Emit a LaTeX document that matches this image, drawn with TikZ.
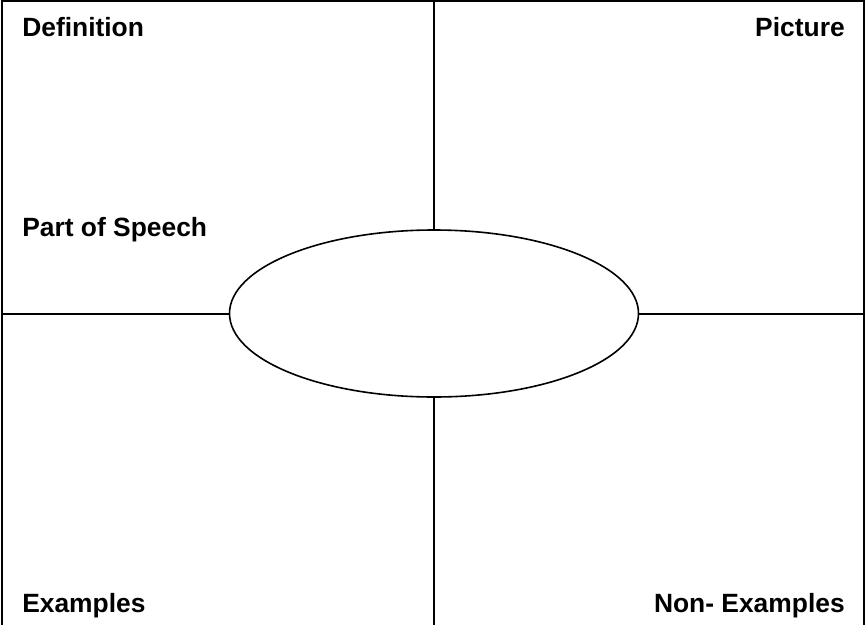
\documentclass[tikz,border=0pt]{standalone}
\usepackage{fontspec}
\setmainfont{Liberation Sans}
\usetikzlibrary{shapes.geometric, positioning}

\begin{document}
\begin{tikzpicture}[
  x=0.75pt, y=-0.75pt,
  frame/.style={line width=1.5pt, black},
  label/.style={font=\fontsize{19.8}{22}\selectfont\bfseries, inner sep=0pt},
  hub/.style={ellipse, draw, line width=1.2pt, minimum width=409*0.75pt,
    minimum height=167*0.75pt, inner sep=0pt}
]
  \useasboundingbox (0,0) rectangle (867,625);

  % outer frame (top, left, right)
  \coordinate (TL) at (2,1);
  \coordinate (TR) at (864,1);
  \coordinate (BL) at (2,625);
  \coordinate (BR) at (864,625);
  \draw[frame] (BL) -- (TL) -- (TR) -- (BR);

  % centre oval
  \node[hub] (W) at (434,313.5) {};

  % dividing lines
  \coordinate (N) at (434,1);
  \coordinate (S) at (434,625);
  \coordinate (E) at (864,313.5);
  \coordinate (Wl) at (2,313.5);
  \draw[frame] (W.north) -- (N);
  \draw[frame] (W.south) -- (S);
  \draw[frame] (W.east) -- (E);
  \draw[frame] (W.west) -- (Wl);

  % corner labels
  \node[label, anchor=base west] (def) at (22,36) {Definition};
  \node[label, anchor=base east] (pic) at (845,36) {Picture};
  \node[label, anchor=base west] (pos) at (22,236) {Part of Speech};
  \node[label, anchor=base west] (ex)  at (22,612) {Examples};
  \node[label, anchor=base east] (nex) at (845,612) {Non- Examples};
\end{tikzpicture}
\end{document}
